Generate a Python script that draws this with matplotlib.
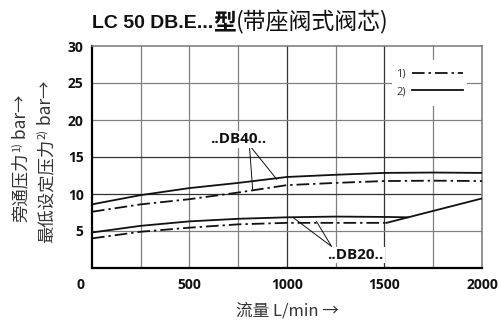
import matplotlib
matplotlib.use('Agg')
import matplotlib.pyplot as plt
from matplotlib.lines import Line2D
from matplotlib.patches import Rectangle
from matplotlib.transforms import ScaledTranslation

plt.rcParams['font.family'] = ['Open Sans', 'Noto Sans CJK SC', 'DejaVu Sans']
CJK = ['Noto Sans CJK SC', 'DejaVu Sans']

# Axis ticks
flow_ticks = [0, 500, 1000, 1500, 2000]
pressure_ticks = [5, 10, 15, 20, 25, 30]

# ..DB40.. curves (flow L/min, pressure bar)
db40_flow = [0, 250, 500, 750, 1000, 1250, 1500, 1750, 2000]
db40_min_setting = [8.6, 9.85, 10.8, 11.5, 12.3, 12.6, 12.85, 12.9, 12.85]
db40_bypass = [7.6, 8.6, 9.3, 10.2, 11.2, 11.5, 11.75, 11.8, 11.75]

# ..DB20.. curves
db20_setting_flow = [0, 250, 500, 750, 1000, 1250, 1500, 1620]
db20_min_setting = [4.8, 5.7, 6.3, 6.65, 6.85, 6.95, 6.9, 6.85]
db20_bypass_flow = [0, 250, 500, 750, 1000, 1250, 1510]
db20_bypass = [4.0, 4.9, 5.45, 5.9, 6.1, 6.1, 6.1]
db20_rise_flow = [1510, 2000]
db20_rise = [6.1, 9.4]

W, H = 502, 321
fig = plt.figure(figsize=(W / 100, H / 100), dpi=100)
ax = fig.add_axes([92 / W, 1 - 268 / H, 390 / W, 222 / H])
renderer = fig.canvas.get_renderer()

ax.set_xlim(0, 2000)
ax.set_ylim(0, 30)
ax.set_axisbelow(True)

# grid
for x in range(250, 2000, 250):
    c = '#333333' if x in (1000, 1500) else '#808080'
    ax.axvline(x, color=c, lw=0.9, zorder=0.5)
for y in range(5, 30, 5):
    c = '#333333' if y in (10, 15) else '#808080'
    ax.axhline(y, color=c, lw=0.9, zorder=0.5)

for s in ('left', 'bottom'):
    ax.spines[s].set_linewidth(1.6)
    ax.spines[s].set_color('black')
for s in ('top', 'right'):
    ax.spines[s].set_linewidth(1.1)
    ax.spines[s].set_color('#777777')

dashdot = (0, (7, 2.2, 1.3, 2.2))
lw = 1.3
ax.plot(db40_flow, db40_min_setting, color='#111111', lw=lw, zorder=3)
ax.plot(db40_flow, db40_bypass, color='#111111', lw=lw, ls=dashdot, zorder=3)
ax.plot(db20_setting_flow, db20_min_setting, color='#111111', lw=lw, zorder=3)
ax.plot(db20_bypass_flow, db20_bypass, color='#111111', lw=lw, ls=dashdot, zorder=3)
ax.plot(db20_rise_flow, db20_rise, color='#111111', lw=lw, zorder=3)

# ticks
ax.set_xticks(flow_ticks)
ax.set_xticklabels([str(v) for v in flow_ticks])
ax.set_yticks(pressure_ticks)
ax.set_yticklabels([str(v) for v in pressure_ticks])
ax.tick_params(length=0, labelsize=10, colors='#111111')
ax.tick_params(axis='x', pad=7)
ax.tick_params(axis='y', pad=6)
for lbl in ax.get_xticklabels() + ax.get_yticklabels():
    lbl.set_fontweight('bold')
first = ax.get_xticklabels()[0]
first.set_transform(first.get_transform() + ScaledTranslation(-0.11, 0, fig.dpi_scale_trans))

# curve labels
bbox = dict(facecolor='white', edgecolor='none', pad=1.0)
ax.text(749, 17.4, '..DB40..', ha='center', va='center', fontsize=11,
        fontweight='bold', color='#111111', bbox=bbox, zorder=4)
ax.plot([824, 807, 947], [10.6, 16.6, 12.0], color='#111111', lw=0.7, zorder=3)
ax.text(1349, 1.75, '..DB20..', ha='center', va='center', fontsize=11,
        fontweight='bold', color='#111111', bbox=bbox, zorder=4)
ax.plot([1032, 1229, 1152], [6.8, 2.9, 6.26], color='#111111', lw=0.7, zorder=3)

# legend
ax.add_patch(Rectangle((0.769, 0.73), 0.193, 0.207, transform=ax.transAxes,
                       facecolor='white', edgecolor='none', zorder=1))
handles = [Line2D([], [], color='#111111', lw=lw, ls=dashdot),
           Line2D([], [], color='#111111', lw=lw)]
leg = ax.legend(handles, ['1)', '2)'], loc='center',
                bbox_to_anchor=(0.769, 0.73, 0.193, 0.207), frameon=False,
                markerfirst=False, fontsize=8, handlelength=4.6,
                handletextpad=0.5, labelspacing=0.55, borderpad=0.2)
for t in leg.get_texts():
    t.set_color('#333333')
leg.set_zorder(5)

# axis titles
ax.set_xlabel('流量 L/min →', fontsize=12, color='#333333', labelpad=8,
              family=CJK)


def vertical_label(x_px, y_px, parts):
    """Stack rotated text pieces upward from (x_px, y_px) on a common baseline."""
    y = y_px
    for text, size, shift in parts:
        t = fig.text((x_px - shift) / W, y / H, text, rotation=90,
                     rotation_mode='anchor', ha='left', va='baseline',
                     fontsize=size, family=CJK, color='#333333')
        y = t.get_window_extent(renderer).y1


vertical_label(26, H - 222, [('旁通压力', 12.5, 0), ('1)', 8, 6), (' bar→', 12.5, 0)])
vertical_label(51, H - 243, [('最低设定压力', 12.5, 0), ('2)', 8, 6), (' bar→', 12.5, 0)])

# title
t1 = fig.text(92 / W, 1 - 28 / H, 'LC 50 DB.E...', fontsize=14,
              fontweight='bold', ha='left', va='baseline', color='#111111',
              family=['Liberation Sans', 'DejaVu Sans'])
t2 = ax.annotate('型', xy=(1, 0), xycoords=t1, xytext=(0, -1.5),
                 textcoords='offset points', ha='left', va='bottom',
                 fontsize=16.5, fontweight='bold', color='#111111',
                 family=CJK, annotation_clip=False)
ax.annotate('(带座阀式阀芯)', xy=(1, 0), xycoords=t2, ha='left', va='bottom',
            fontsize=16.5, color='#111111', family=CJK, annotation_clip=False)

fig.savefig('out.png', dpi=100)
